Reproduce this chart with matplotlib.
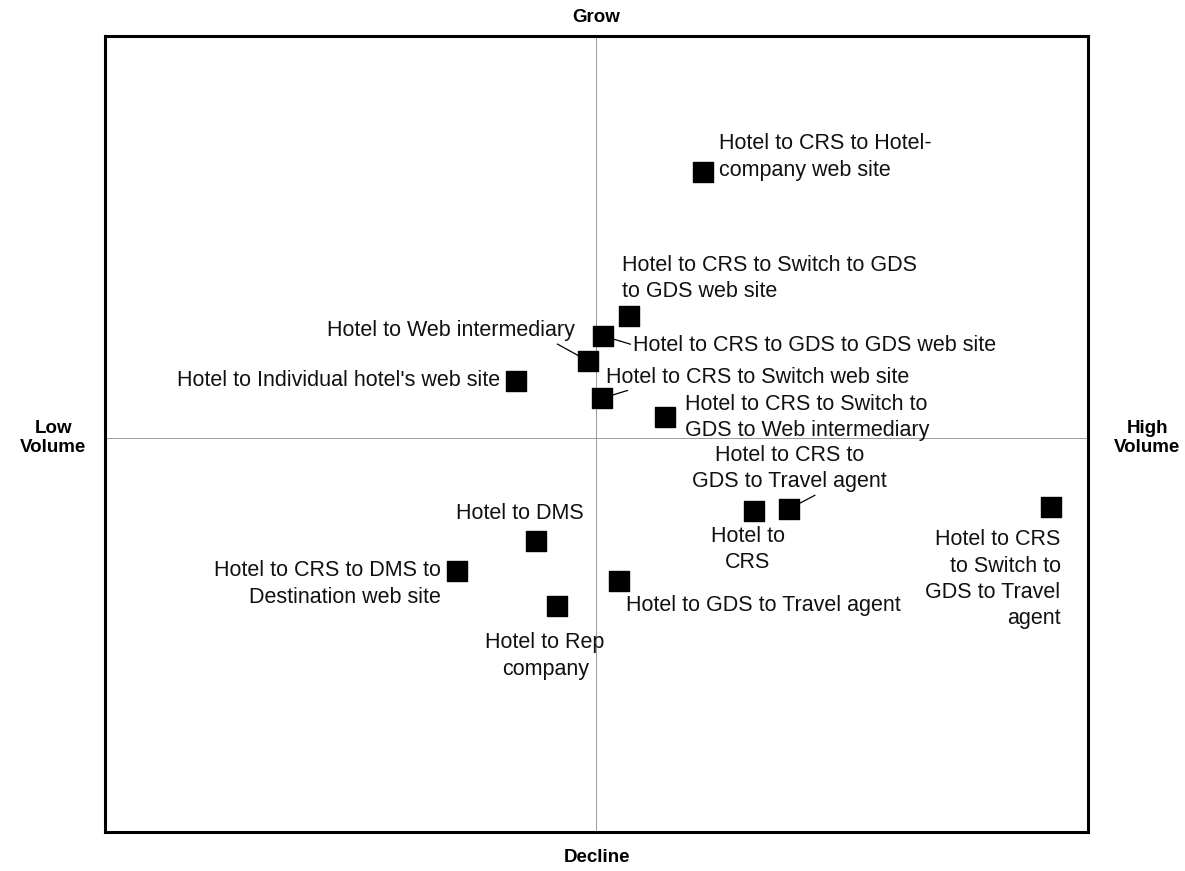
import matplotlib.pyplot as plt

plt.rcParams['font.family'] = ['Liberation Sans', 'DejaVu Sans']

# channel positions: x = volume (0-100), y = growth (0-100)
labels = [
    "Hotel to CRS to Hotel-\ncompany web site",
    "Hotel to CRS to Switch to GDS\nto GDS web site",
    "Hotel to CRS to GDS to GDS web site",
    "Hotel to Web intermediary",
    "Hotel to Individual hotel's web site",
    "Hotel to CRS to Switch web site",
    "Hotel to CRS to Switch to\nGDS to Web intermediary",
    "Hotel to\nCRS",
    "Hotel to CRS to\nGDS to Travel agent",
    "Hotel to CRS\nto Switch to\nGDS to Travel\nagent",
    "Hotel to DMS",
    "Hotel to CRS to DMS to\nDestination web site",
    "Hotel to GDS to Travel agent",
    "Hotel to Rep\ncompany",
]
volume = [60.8, 53.3, 50.7, 49.1, 41.8, 50.6, 57.0, 66.0, 69.6, 96.2, 43.8, 35.8, 52.3, 46.0]
growth = [82.9, 64.8, 62.3, 59.2, 56.7, 54.5, 52.1, 40.3, 40.6, 40.8, 36.6, 32.8, 31.5, 28.4]

# label placement: (dx, dy) pixel offset, alignment, leader relpos or None
layout = [
    ((16, 15), 'left', None),
    ((-7, 38), 'left', None),
    ((30, -9), 'left', (0, 0.5)),
    ((-13, 30), 'right', (0.91, 0.0)),
    ((-16, 0), 'right', None),
    ((4, 21), 'left', (0.1, 0.0)),
    ((20, 0), 'left', None),
    ((-6, -38), 'center', None),
    ((0, 40), 'center', (0.66, 0.0)),
    ((10, -72), 'right', None),
    ((-16, 27), 'center', None),
    ((-16, -13), 'right', None),
    ((7, -24), 'left', None),
    ((-12, -50), 'center', None),
]

fig = plt.figure(figsize=(11.85, 8.71), dpi=100)
ax = fig.add_axes([0.0886, 0.0448, 0.8295, 0.9139])
ax.set_xlim(0, 100)
ax.set_ylim(0, 100)
ax.set_xticks([])
ax.set_yticks([])
for s in ax.spines.values():
    s.set_linewidth(2.2)
    s.set_color('black')

ax.axvline(50, color='#9a9a9a', lw=0.7, zorder=1)
ax.axhline(49.5, color='#9a9a9a', lw=0.7, zorder=1)

ax.scatter(volume, growth, marker='s', s=225, color='black', zorder=3)

for lab, x, y, (off, ha, rel) in zip(labels, volume, growth, layout):
    kw = {}
    if rel is not None:
        kw['arrowprops'] = dict(arrowstyle='-', color='black', lw=0.9,
                                relpos=rel, shrinkA=0, shrinkB=5)
    ax.annotate(lab, (x, y), xytext=off, textcoords='offset pixels',
                ha=ha, va='center', multialignment=ha, fontsize=15.5,
                linespacing=1.33, color='#111111', zorder=4, **kw)

fig.text(0.5035, 0.980, 'Grow', ha='center', va='center', fontsize=13.5, fontweight='bold')
fig.text(0.5035, 0.015, 'Decline', ha='center', va='center', fontsize=13.5, fontweight='bold')
fig.text(0.045, 0.497, 'Low\nVolume', ha='center', va='center', fontsize=13.5,
         fontweight='bold', linespacing=1.15)
fig.text(0.968, 0.497, 'High\nVolume', ha='center', va='center', fontsize=13.5,
         fontweight='bold', linespacing=1.15)

fig.savefig('out.png', dpi=100)
